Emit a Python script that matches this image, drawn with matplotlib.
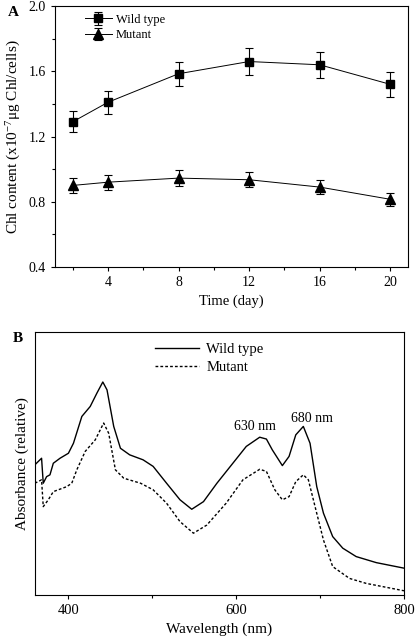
import matplotlib.pyplot as plt

plt.rcParams['font.family'] = ['Liberation Serif', 'DejaVu Serif']
plt.rcParams['mathtext.fontset'] = 'custom'
plt.rcParams['mathtext.rm'] = 'Liberation Serif'
plt.rcParams['mathtext.it'] = 'Liberation Serif:italic'

# panel A: chlorophyll content over time
days = [2, 4, 8, 12, 16, 20]
wt_chl = [1.29, 1.41, 1.585, 1.66, 1.64, 1.52]
wt_err = [0.065, 0.07, 0.075, 0.085, 0.08, 0.075]
mut_chl = [0.90, 0.92, 0.945, 0.935, 0.89, 0.815]
mut_err = [0.045, 0.045, 0.05, 0.045, 0.045, 0.04]

# panel B: absorption spectra (relative)
wt_nm = [360, 368, 370, 374, 378, 382, 390, 400, 406, 416, 426, 434, 441, 446, 454, 462,
         473, 489, 501, 517, 533, 547, 561, 577, 596, 612, 628, 636, 643, 655, 663, 671,
         680, 688, 696, 704, 715, 727, 743, 767, 800]
wt_abs = [0.495, 0.520, 0.425, 0.450, 0.457, 0.501, 0.520, 0.539, 0.577, 0.679, 0.717,
          0.768, 0.810, 0.780, 0.641, 0.558, 0.533, 0.514, 0.489, 0.425, 0.362, 0.326,
          0.355, 0.425, 0.501, 0.565, 0.600, 0.593, 0.552, 0.492, 0.527, 0.609, 0.641,
          0.577, 0.412, 0.311, 0.222, 0.178, 0.146, 0.123, 0.102]
mut_nm = [360, 368, 370, 376, 382, 398, 404, 410, 420, 432, 442, 448, 456, 466, 486, 501,
          517, 533, 549, 565, 588, 608, 628, 636, 646, 655, 663, 671, 680, 686, 694, 704,
          715, 735, 755, 800]
mut_abs = [0.425, 0.438, 0.336, 0.362, 0.393, 0.412, 0.425, 0.476, 0.546, 0.590, 0.654,
           0.615, 0.476, 0.444, 0.425, 0.400, 0.349, 0.279, 0.235, 0.266, 0.349, 0.438,
           0.478, 0.470, 0.400, 0.362, 0.374, 0.431, 0.457, 0.438, 0.336, 0.209, 0.108,
           0.063, 0.044, 0.016]

fig = plt.figure(figsize=(4.15, 6.41), dpi=100)

# ---- A ----
ax1 = fig.add_axes([0.1325, 0.5835, 0.8505, 0.407])
ax1.errorbar(days, wt_chl, yerr=wt_err, color='black', marker='s', ms=6, lw=0.7,
             elinewidth=0.8, capsize=3, capthick=0.8, label='Wild type')
ax1.errorbar(days, mut_chl, yerr=mut_err, color='black', marker='^', ms=7, lw=0.7,
             elinewidth=0.8, capsize=3, capthick=0.8, label='Mutant')
ax1.set_xlim(1, 21)
ax1.set_ylim(0.4, 2.0)
ax1.set_xticks([4, 8, 12, 16, 20])
ax1.set_xticks([2, 6, 10, 14, 18], minor=True)
ax1.set_yticks([0.4, 0.8, 1.2, 1.6, 2.0])
ax1.set_yticks([0.6, 1.0, 1.4, 1.8], minor=True)
ax1.tick_params(labelsize=10, width=0.8, length=3)
ax1.tick_params(which='minor', width=0.8, length=2)
ax1.set_xlabel('Time (day)', fontsize=10.5)
ax1.set_ylabel('Chl content (x10$^{-7}$\u03bcg Chl/cells)', fontsize=11)
ax1.legend(loc='upper left', bbox_to_anchor=(0.07, 0.99), frameon=False,
           fontsize=9, handlelength=2.2, handletextpad=0.3, borderaxespad=0,
           labelspacing=0.3)
for s in ax1.spines.values():
    s.set_linewidth(0.8)
fig.text(0.02, 0.975, 'A', fontsize=11, fontweight='bold')

# ---- B ----
ax2 = fig.add_axes([0.084, 0.0718, 0.8895, 0.4102])
ax2.plot(wt_nm, wt_abs, color='black', lw=1.0, label='Wild type')
ax2.plot(mut_nm, mut_abs, color='black', lw=1.0, ls=(0, (2, 1.5)), label='Mutant')
ax2.set_xlim(360, 800)
ax2.set_ylim(0, 1)
ax2.set_xticks([400, 600, 800])
ax2.set_xticks([500, 700], minor=True)
ax2.set_yticks([])
ax2.tick_params(labelsize=10.5, width=0.8, length=3)
ax2.tick_params(which='minor', width=0.8, length=2)
ax2.set_xlabel('Wavelength (nm)', fontsize=11)
ax2.set_ylabel('Absorbance (relative)', fontsize=11)
ax2.text(622, 0.64, '630 nm', fontsize=10, ha='center', va='center')
ax2.text(690, 0.673, '680 nm', fontsize=10, ha='center', va='center')
ax2.legend(loc='upper left', bbox_to_anchor=(0.31, 0.98), frameon=False, fontsize=10.5,
           handlelength=3.0, handletextpad=0.5, borderaxespad=0, labelspacing=0.3)
for s in ax2.spines.values():
    s.set_linewidth(0.8)
fig.text(0.03, 0.467, 'B', fontsize=11, fontweight='bold')

fig.savefig('out.png', dpi=100)
